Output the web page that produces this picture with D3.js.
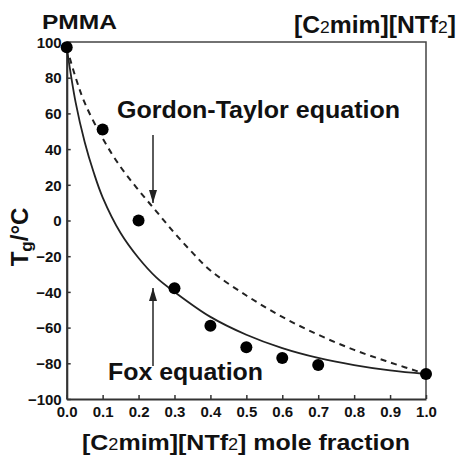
<!DOCTYPE html>
<html><head><meta charset="utf-8">
<script src="https://cdn.jsdelivr.net/npm/d3@7"></script>
<style>
body{margin:0;background:#fff;}
text{font-family:"Liberation Sans",Arial,sans-serif;font-weight:bold;fill:#111;}
</style></head>
<body><svg id="c" width="458" height="458"></svg>
<script>
// measured data points: mole fraction of [C2mim][NTf2] vs Tg (°C)
const moleFraction = [0.0, 0.1, 0.2, 0.3, 0.4, 0.5, 0.6, 0.7, 1.0];
const tgMeasured   = [97, 51, 0, -38, -59, -71, -77, -81, -86];
// Fox equation curve
const foxX  = [0.0, 0.025, 0.05, 0.075, 0.1, 0.15, 0.2, 0.25, 0.3, 0.4, 0.5, 0.6, 0.7, 0.8, 0.9, 1.0];
const foxTg = [97, 66, 44, 27, 13, -7, -21, -32, -40, -54, -64, -71.5, -77, -81, -84, -86];
// Gordon-Taylor equation curve
const gtX  = [0.0, 0.025, 0.05, 0.1, 0.15, 0.2, 0.25, 0.3, 0.35, 0.4, 0.5, 0.6, 0.7, 0.8, 0.9, 1.0];
const gtTg = [97, 80, 66, 46, 30, 17, 5, -7, -18, -28, -42, -54, -64, -72.5, -79.5, -86];
const xTicks = [0,0.1,0.2,0.3,0.4,0.5,0.6,0.7,0.8,0.9,1.0];
const yTicks = [-100,-80,-60,-40,-20,0,20,40,60,80,100];

const svg = d3.select("#c");
const L = 66.7, R = 426, T = 42, B = 399;
const x = d3.scaleLinear().domain([0,1]).range([L,R]);
const y = d3.scaleLinear().domain([-100,100]).range([B,T]);

// frame top/right
svg.append("path").attr("d",`M${L},${T}H${R}V${B}`).attr("fill","none").attr("stroke","#444").attr("stroke-width",1.5);

// axes
const xa = svg.append("g").attr("transform",`translate(0,${B})`)
  .call(d3.axisBottom(x).tickValues(xTicks).tickFormat(d3.format(".1f")).tickSizeInner(-4).tickSizeOuter(0).tickPadding(7));
const ya = svg.append("g").attr("transform",`translate(${L},0)`)
  .call(d3.axisLeft(y).tickValues(yTicks).tickSizeInner(-4).tickSizeOuter(0).tickPadding(5));
[xa,ya].forEach(a=>{
  a.select(".domain").attr("stroke","#333").attr("stroke-width",2.2);
  a.selectAll(".tick line").attr("stroke","#333").attr("stroke-width",1.5);
  a.selectAll(".tick text").style("font-size","15px").style("font-weight","bold").style("font-family","Liberation Sans, Arial, sans-serif").attr("fill","#111");
});
ya.selectAll(".tick text").attr("dy","0.35em");

const line = d3.line().x(d=>x(d[0])).y(d=>y(d[1])).curve(d3.curveCatmullRom.alpha(0.5));
svg.append("path").datum(gtX.map((v,i)=>[v,gtTg[i]])).attr("d",line)
  .attr("fill","none").attr("stroke","#222").attr("stroke-width",2).attr("stroke-dasharray","6,5");
svg.append("path").datum(foxX.map((v,i)=>[v,foxTg[i]])).attr("d",line)
  .attr("fill","none").attr("stroke","#222").attr("stroke-width",1.8);

svg.selectAll("circle.pt").data(moleFraction.map((v,i)=>[v,tgMeasured[i]])).enter().append("circle")
  .attr("class","pt").attr("cx",d=>x(d[0])).attr("cy",d=>y(d[1])).attr("r",6).attr("fill","#000");

// arrows
const ax = 153;
function arrow(x0,y0,y1){
  svg.append("line").attr("x1",x0).attr("x2",x0).attr("y1",y0).attr("y2",y1).attr("stroke","#333").attr("stroke-width",1.6);
  const dir = y1>y0?1:-1;
  svg.append("path").attr("d",`M${x0},${y1}L${x0-4},${y1-dir*13}L${x0+4},${y1-dir*13}Z`).attr("fill","#222");
}
arrow(ax,135,203);
arrow(ax,366,288);

// labels
svg.append("text").attr("x",42).attr("y",29).style("font-size","20px")
  .attr("textLength",75).attr("lengthAdjust","spacingAndGlyphs").text("PMMA");
const t2 = svg.append("text").attr("x",294).attr("y",33).style("font-size","24px")
  .attr("textLength",162).attr("lengthAdjust","spacingAndGlyphs");
t2.append("tspan").text("[C");
t2.append("tspan").style("font-size","17px").style("font-weight","normal").text("2");
t2.append("tspan").text("mim][NTf");
t2.append("tspan").style("font-size","17px").style("font-weight","normal").text("2");
t2.append("tspan").text("]");

svg.append("text").attr("x",117).attr("y",118).style("font-size","23px")
  .attr("textLength",283).attr("lengthAdjust","spacingAndGlyphs").text("Gordon-Taylor equation");
svg.append("text").attr("x",108).attr("y",380).style("font-size","23px")
  .attr("textLength",155).attr("lengthAdjust","spacingAndGlyphs").text("Fox equation");

const xt = svg.append("text").attr("x",82).attr("y",450).style("font-size","22px")
  .attr("textLength",328).attr("lengthAdjust","spacingAndGlyphs");
xt.append("tspan").text("[C");
xt.append("tspan").style("font-size","16px").style("font-weight","normal").text("2");
xt.append("tspan").text("mim][NTf");
xt.append("tspan").style("font-size","16px").style("font-weight","normal").text("2");
xt.append("tspan").text("] mole fraction");

const yt = svg.append("text").attr("transform",`translate(28,237) rotate(-90)`).attr("text-anchor","middle").style("font-size","24px");
yt.append("tspan").text("T");
yt.append("tspan").style("font-size","17px").attr("dy",4).text("g");
yt.append("tspan").attr("dy",-4).text("/°C");
</script></body></html>
